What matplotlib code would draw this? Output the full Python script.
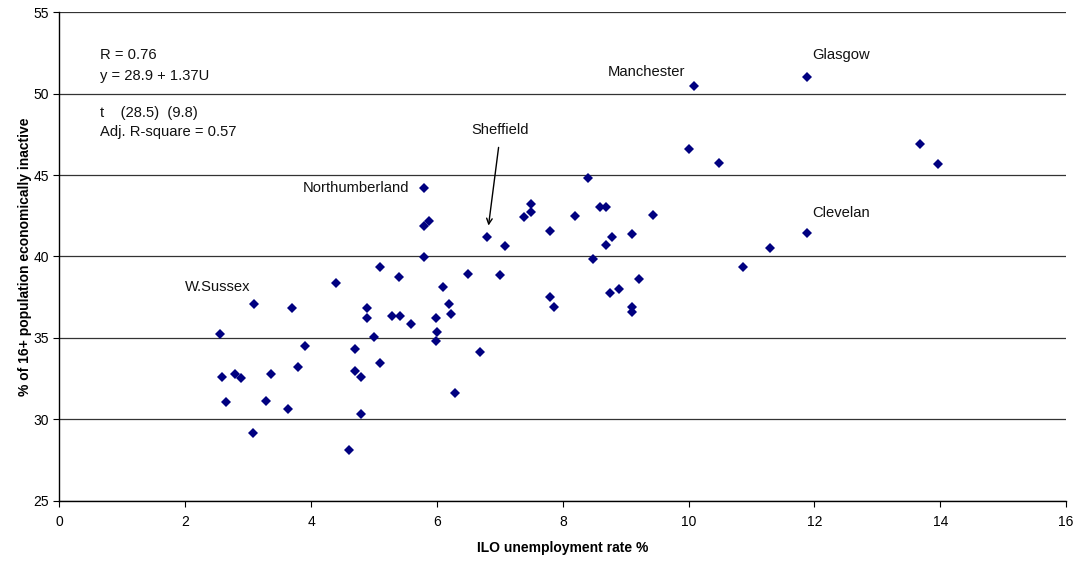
import matplotlib
matplotlib.use('Agg')
from matplotlib import pyplot as plt
from matplotlib.transforms import Bbox, TransformedBbox

# ILO unemployment rate % (x) and % of 16+ population economically inactive (y)
unemployment = [10.09, 11.88, 10.00, 10.48, 13.68, 13.97, 11.88, 11.29, 10.86,
                8.40, 8.19, 8.59, 8.69, 9.44, 8.79, 8.69, 9.10, 8.48, 9.21,
                8.90, 8.75, 9.10, 9.10, 5.79, 5.79, 5.88, 6.80, 7.08, 5.79,
                7.38, 7.50, 7.50, 7.79, 5.09, 5.39, 6.10, 6.49, 7.01, 6.19,
                6.22, 5.28, 5.41, 5.59, 5.99, 6.00, 5.99, 6.69, 6.29, 5.09,
                7.79, 7.86, 2.55, 3.10, 3.70, 4.39, 4.89, 4.89, 5.00, 3.90,
                4.69, 3.79, 2.59, 2.79, 2.89, 3.37, 4.69, 4.79, 2.65, 3.29,
                3.63, 4.79, 3.07, 4.60]
inactive = [50.45, 51.00, 46.60, 45.72, 46.90, 45.66, 41.42, 40.50, 39.34,
            44.82, 42.47, 43.02, 43.02, 42.55, 41.22, 40.72, 41.36, 39.83, 38.64,
            38.02, 37.74, 36.88, 36.61, 44.19, 41.89, 42.18, 41.20, 40.64, 39.97,
            42.44, 42.71, 43.22, 41.55, 39.34, 38.72, 38.15, 38.91, 38.85, 37.10,
            36.47, 36.35, 36.35, 35.85, 36.22, 35.36, 34.81, 34.11, 31.62, 33.44,
            37.53, 36.90, 35.24, 37.10, 36.82, 38.37, 36.82, 36.21, 35.07, 34.52,
            34.31, 33.21, 32.58, 32.80, 32.52, 32.78, 32.94, 32.58, 31.06, 31.12,
            30.63, 30.31, 29.18, 28.13]

x_ticks = [0, 2, 4, 6, 8, 10, 12, 14, 16]
y_ticks = [25, 30, 35, 40, 45, 50, 55]

stats_lines = ['R = 0.76', 'y = 28.9 + 1.37U', 't    (28.5)  (9.8)',
               'Adj. R-square = 0.57']


def plot_scatter():
   plt.rcParams['font.family'] = ['Liberation Sans', 'DejaVu Sans']
   fig = plt.figure(figsize=(10.79, 5.61), dpi=100)
   ax = fig.add_axes([0.0551, 0.1075, 0.9329, 0.8706])

   ax.plot(unemployment, inactive, 'D', color='#000080', markersize=5.2,
           markeredgewidth=0, zorder=3)

   ax.set_xlim(0, 16)
   ax.set_ylim(25, 55)
   ax.set_xticks(x_ticks)
   ax.set_yticks(y_ticks)
   ax.tick_params(direction='out', length=4, width=0.8, labelsize=10,
                  colors='black')
   ax.tick_params(axis='x', pad=6)
   ax.grid(axis='y', color='#333333', linewidth=0.9, zorder=1)
   ax.spines['top'].set_visible(False)
   ax.spines['right'].set_visible(False)
   ax.spines['left'].set_linewidth(1.0)
   ax.spines['bottom'].set_linewidth(1.0)

   ax.set_xlabel('ILO unemployment rate %', fontsize=10, fontweight='bold',
                 labelpad=9)
   ax.set_ylabel('% of 16+ population economically inactive', fontsize=10,
                 fontweight='bold')
   ax.yaxis.set_label_coords(-0.0275, 0.5)

   # regression statistics
   for text, ypos in zip(stats_lines, [52.38, 51.09, 48.81, 47.67]):
      ax.text(0.64, ypos, text, fontsize=10.6, ha='left', va='center',
              color='#111111')

   # named places
   style = dict(fontsize=10.6, ha='left', va='center', color='#111111')
   ax.text(1.99, 38.15, 'W.Sussex', **style)
   ax.text(3.87, 44.19, 'Northumberland', **style)
   ax.text(8.71, 51.31, 'Manchester', **style)
   ax.text(11.96, 52.38, 'Glasgow', **style)
   ax.text(6.55, 47.75, 'Sheffield', **style)
   clev = ax.text(11.96, 42.65, 'Cleveland', **style)
   clev.set_clip_box(TransformedBbox(Bbox([[11.8, 41.5], [12.89, 44.0]]),
                                     ax.transData))
   clev.set_clip_on(True)
   ax.annotate('', xy=(6.82, 41.9), xytext=(6.98, 46.7),
               arrowprops=dict(arrowstyle='->', color='black', lw=1.0,
                               shrinkA=0, shrinkB=0))

   fig.savefig('out.png', dpi=100)


def main():
   plot_scatter()


if __name__ == "__main__":
   main()
